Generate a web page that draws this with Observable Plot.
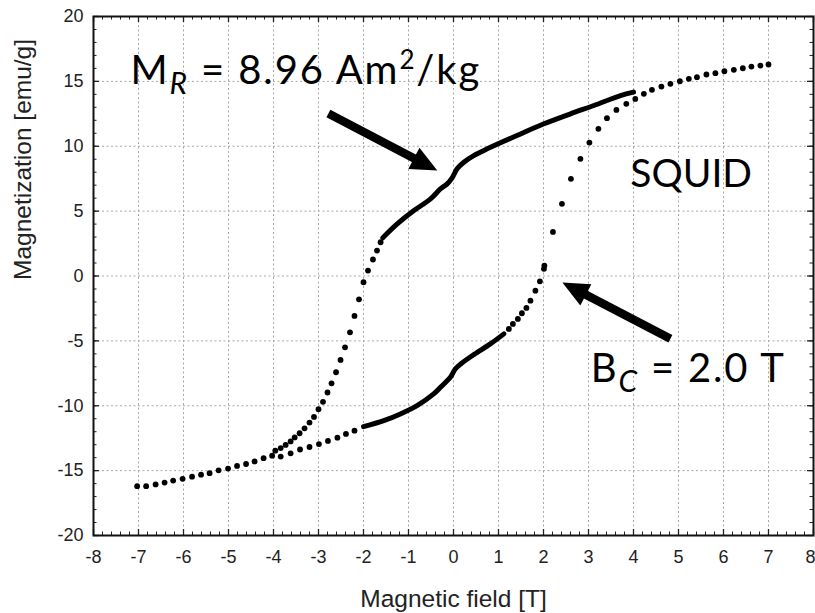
<!DOCTYPE html>
<html><head><meta charset="utf-8">
<script src="https://cdn.jsdelivr.net/npm/d3@7"></script>
<script src="https://cdn.jsdelivr.net/npm/@observablehq/plot@0.6"></script>
<style>body{margin:0;background:#fff}</style>
</head><body><div id="chart"></div>
<script>
// ---- tick labels ----
const xTicks = [-8,-7,-6,-5,-4,-3,-2,-1,0,1,2,3,4,5,6,7,8];
const yTicks = [-20,-15,-10,-5,0,5,10,15,20];

// ---- data ----
// common low-field branch (dots)
const lowFieldX = [-7.03,-6.83,-6.62,-6.42,-6.23,-6.02,-5.81,-5.61,-5.42,-5.22,-5.01,-4.81,-4.61,-4.42,-4.22,-4.03];
const lowFieldM = [-16.2,-16.2,-16.06,-15.92,-15.77,-15.63,-15.47,-15.31,-15.2,-14.98,-14.84,-14.64,-14.49,-14.29,-14.04,-13.85];
// descending branch, negative-field dots
const descDotsX = [-1.62,-1.70,-1.79,-1.90,-2.00,-2.10,-2.20,-2.30,-2.41,-2.51,-2.61,-2.71,-2.80,-2.90,-3.00,-3.10,-3.20,-3.31,-3.42,-3.53,-3.62,-3.73,-3.84,-3.96];
const descDotsM = [2.6,1.96,1.27,0.42,-0.48,-1.8,-3.08,-4.34,-5.5,-6.47,-7.42,-8.27,-8.98,-9.7,-10.27,-10.86,-11.3,-11.74,-12.12,-12.44,-12.75,-13.02,-13.26,-13.46];
// ascending branch, -4 T to -2 T dots
const ascLowX = [-3.84,-3.62,-3.41,-3.2,-2.99,-2.79,-2.58,-2.39,-2.2];
const ascLowM = [-13.92,-13.67,-13.37,-13.18,-12.95,-12.71,-12.46,-12.17,-11.92];
// ascending branch, 1.2 T to 4 T dots
const ascHighX = [1.23,1.32,1.43,1.52,1.62,1.71,1.82,1.92,2.01,2.02,2.21,2.41,2.61,2.82,3.02,3.22,3.41,3.62,3.84,4.04];
const ascHighM = [-4.08,-3.69,-3.31,-2.87,-2.46,-1.9,-1.13,-0.41,0.55,0.8,3.4,5.56,7.49,9.03,10.28,11.34,12.16,12.8,13.27,13.65];
// common high-field branch (dots)
const highFieldX = [4.23,4.41,4.62,4.82,5.03,5.23,5.41,5.62,5.82,6.02,6.23,6.43,6.62,6.82,7.0];
const highFieldM = [14.04,14.35,14.6,14.81,15.01,15.2,15.32,15.53,15.63,15.78,15.89,16.01,16.14,16.22,16.3];
// dense measurements (drawn as solid)
const upperX = [-1.57,-1.25,-0.88,-0.51,-0.29,-0.14,-0.03,0.08,0.23,0.45,0.75,1.49,2.01,2.6,3.12,3.71,4.0];
const upperM = [2.95,4.01,5.04,5.94,6.71,7.1,7.56,8.26,8.77,9.28,9.8,10.95,11.73,12.5,13.14,13.9,14.17];
const lowerX = [-2.0,-1.55,-1.18,-0.81,-0.44,-0.29,-0.07,0.04,0.16,0.45,0.82,1.12];
const lowerM = [-11.61,-11.15,-10.63,-9.99,-9.09,-8.58,-7.81,-7.17,-6.78,-6.06,-5.23,-4.46];

// annotations
const richLabels = [
  {x: -7.18, y: 14.83, label: "M_R = 8.96 Am²/kg"},
  {x: 3.05, y: -8.14, label: "B_C = 2.0 T"}
];
const plainLabels = [{x: 3.93, y: 6.89, label: "SQUID"}];
const arrows = [
  {x1: -2.78, y1: 12.52, x2: -0.36, y2: 8.13},
  {x1: 4.82, y1: -4.83, x2: 2.42, y2: -0.51}
];

// ---- layout ----
const W = 815, H = 613, mL = 93, mR = 2, mT = 16, mB = 78;
const plotW = W - mL - mR, plotH = H - mT - mB;
const font = "'Liberation Sans', Arial, sans-serif";
const annFont = "Lato, 'Open Sans', sans-serif";

const rows = (xs, ms) => xs.map((x, i) => ({x, m: ms[i]}));
const dots = [
  ...rows(lowFieldX, lowFieldM), ...rows(descDotsX, descDotsM), ...rows(ascLowX, ascLowM),
  ...rows(ascHighX, ascHighM), ...rows(highFieldX, highFieldM)
];
const upper = rows(upperX, upperM);
const lower = rows(lowerX, lowerM);

const xMinor = d3.range(-40, 41).map(i => i / 5);
const yMinor = d3.range(-20, 21);

// direction of arrows in pixels (for the head rotation)
const px = d3.scaleLinear([-8, 8], [mL, W - mR]);
const py = d3.scaleLinear([-20, 20], [H - mB, mT]);
arrows.forEach(a => {
  a.angle = Math.atan2(px(a.x2) - px(a.x1), -(py(a.y2) - py(a.y1))) * 180 / Math.PI;
});
const headSymbol = {
  draw(ctx, size) {
    const r = Math.sqrt(size / Math.PI);
    ctx.moveTo(0, 0);
    ctx.lineTo(-r, 2.2 * r);
    ctx.lineTo(r, 2.2 * r);
    ctx.closePath();
  }
};

const plot = Plot.plot({
  width: W, height: H,
  marginLeft: mL, marginRight: mR, marginTop: mT, marginBottom: mB,
  style: {background: "#fff", fontFamily: font, overflow: "visible"},
  x: {domain: [-8, 8]},
  y: {domain: [-20, 20]},
  marks: [
    // grid
    Plot.ruleX(xTicks.slice(1, -1), {x: d => d, stroke: "#a8a8a8", strokeWidth: 1, strokeDasharray: "2,2.5"}),
    Plot.ruleY(yTicks.slice(1, -1), {y: d => d, stroke: "#a8a8a8", strokeWidth: 1, strokeDasharray: "2,2.5"}),
    // inward ticks
    Plot.tickX(xMinor, {x: d => d, insetTop: plotH - 3.5, stroke: "#222"}),
    Plot.tickX(xMinor, {x: d => d, insetBottom: plotH - 3.5, stroke: "#222"}),
    Plot.tickX(xTicks, {x: d => d, insetTop: plotH - 6, stroke: "#222", strokeWidth: 1.3}),
    Plot.tickX(xTicks, {x: d => d, insetBottom: plotH - 6, stroke: "#222", strokeWidth: 1.3}),
    Plot.tickY(yMinor, {y: d => d, insetRight: plotW - 3.5, stroke: "#222"}),
    Plot.tickY(yMinor, {y: d => d, insetLeft: plotW - 3.5, stroke: "#222"}),
    Plot.tickY(yTicks, {y: d => d, insetRight: plotW - 6, stroke: "#222", strokeWidth: 1.3}),
    Plot.tickY(yTicks, {y: d => d, insetLeft: plotW - 6, stroke: "#222", strokeWidth: 1.3}),
    Plot.frame({stroke: "#111", strokeWidth: 2}),
    // axes
    Plot.axisX(xTicks.slice(0, -1), {anchor: "bottom", tickSize: 0, tickPadding: 15, fontSize: 18, tickFormat: d => String(d), label: null, fill: "#222"}),
    Plot.axisX(xTicks.slice(-1), {anchor: "bottom", tickSize: 0, tickPadding: 15, fontSize: 18, tickFormat: d => String(d), label: null, fill: "#222", textAnchor: "end", dx: 2}),
    Plot.axisY(yTicks, {anchor: "left", tickSize: 0, tickPadding: 10, fontSize: 18, tickFormat: d => String(d), label: null, fill: "#222"}),
    Plot.text(["Magnetic field [T]"], {text: d => d, frameAnchor: "bottom", dy: 71, lineAnchor: "bottom", fontSize: 24.5, fill: "#222"}),
    Plot.text(["Magnetization [emu/g]"], {text: d => d, frameAnchor: "left", rotate: -90, dx: -70.5, dy: 4, lineAnchor: "middle", fontSize: 24.5, fill: "#222"}),
    // data
    Plot.line(upper, {x: "x", y: "m", stroke: "black", strokeWidth: 5, curve: "catmull-rom", strokeLinecap: "round"}),
    Plot.line(lower, {x: "x", y: "m", stroke: "black", strokeWidth: 5, curve: "catmull-rom", strokeLinecap: "round"}),
    Plot.dot(dots, {x: "x", y: "m", r: 2.9, fill: "black", stroke: "none"}),
    // annotations
    Plot.arrow(arrows, {x1: "x1", y1: "y1", x2: "x2", y2: "y2", stroke: "black", strokeWidth: 8.5, headLength: 0, insetEnd: 20, strokeLinecap: "butt"}),
    Plot.dot(arrows, {x: "x2", y: "y2", symbol: headSymbol, r: 12, rotate: "angle", fill: "black", stroke: "none"}),
    Plot.text(plainLabels, {x: "x", y: "y", text: "label", textAnchor: "start", lineAnchor: "bottom", fontSize: 39, fontFamily: annFont, fill: "black"}),
    Plot.text(richLabels, {x: "x", y: "y", text: "label", textAnchor: "start", lineAnchor: "bottom", fontSize: 40, fontFamily: annFont, fill: "black"})
  ]
});

function rich(svg, label, parts, spacing) {
  d3.select(svg).selectAll("text").filter(function () { return this.textContent === label; }).each(function () {
    const t = d3.select(this);
    t.text(null);
    t.attr("letter-spacing", spacing);
    let shift = 0;
    for (const p of parts) {
      const s = t.append("tspan").text(p.t);
      const target = p.shift || 0;
      if (target !== shift) { s.attr("dy", target - shift); shift = target; }
      if (p.size) s.attr("font-size", p.size);
      if (p.italic) s.attr("font-style", "italic");
    }
  });
}
rich(plot, "M_R = 8.96 Am²/kg", [
  {t: "M"}, {t: "R", italic: true, size: 30, shift: 10}, {t: " = 8.96 Am"}, {t: "2", size: 26, shift: -15}, {t: "/kg"}
], 1.9);
rich(plot, "B_C = 2.0 T", [
  {t: "B"}, {t: "C", italic: true, size: 30, shift: 10}, {t: " = 2.0 T"}
], 1.8);

document.getElementById("chart").appendChild(plot);
</script>
</body></html>
